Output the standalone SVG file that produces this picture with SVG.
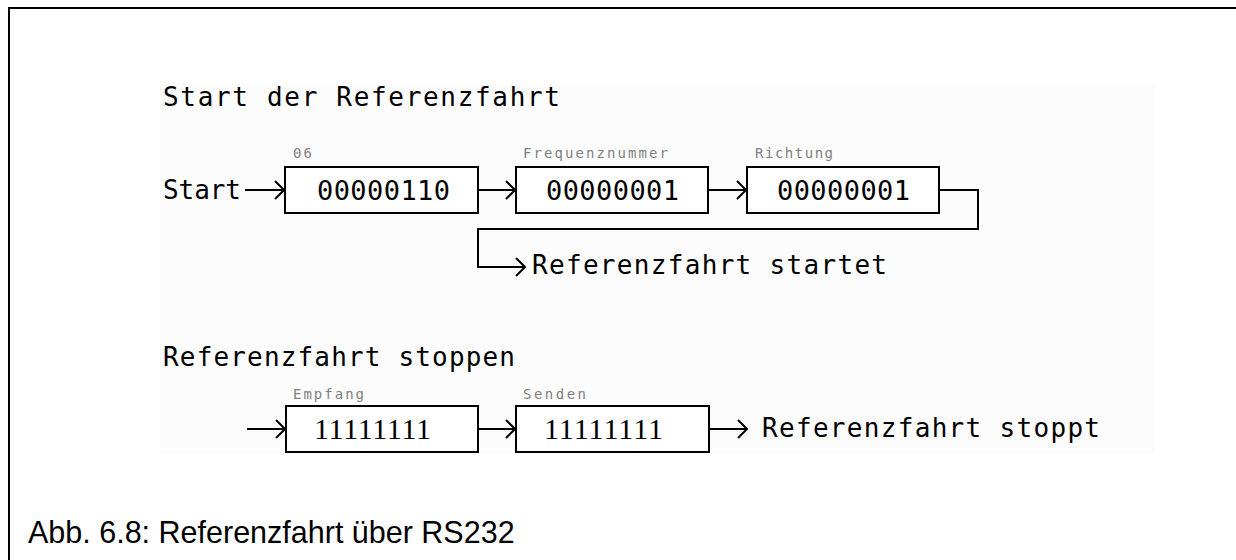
<svg xmlns="http://www.w3.org/2000/svg" width="1236" height="560" viewBox="0 0 1236 560">
<style>
.cad{font-family:"DejaVu Sans Mono","Liberation Mono",monospace;font-size:26px;fill:#000}
.val{font-family:"DejaVu Sans Mono","Liberation Mono",monospace;font-size:27px;fill:#000}
.one{font-family:"Liberation Serif","Times New Roman",serif;font-size:30px;fill:#000}
.lbl{font-family:"DejaVu Sans Mono","Liberation Mono",monospace;font-size:14px;fill:#808080}
.box{fill:#fff;stroke:#000;stroke-width:2}
.con{fill:none;stroke:#000;stroke-width:2}
.cap{font-family:"Liberation Sans",Arial,sans-serif;font-size:30.5px;fill:#000}
</style>
<defs>
<marker id="arr" viewBox="0 0 11 20" refX="10" refY="10" markerWidth="11" markerHeight="20" markerUnits="userSpaceOnUse" orient="auto">
<path d="M1,1 L10,10 L1,19" fill="none" stroke="#000" stroke-width="2"/>
</marker>
</defs>
<rect x="0" y="0" width="1236" height="560" fill="#fff"/>
<rect x="160" y="84" width="995" height="370" fill="#fcfcfc"/>
<path d="M9,560 L9,8 L1236,8" fill="none" stroke="#000" stroke-width="2"/>

<text class="cad" x="163" y="106" textLength="397" lengthAdjust="spacing">Start der Referenzfahrt</text>
<text class="cad" x="163" y="199" textLength="78" lengthAdjust="spacing">Start</text>

<g id="connectors">
<path class="con" d="M245,190 L284,190" marker-end="url(#arr)"/>
<path class="con" d="M478,190 L515,190" marker-end="url(#arr)"/>
<path class="con" d="M708,190 L746,190" marker-end="url(#arr)"/>
<path class="con" d="M939,190 L978,190 L978,229 L478,229 L478,267 L525,267" marker-end="url(#arr)"/>
<path class="con" d="M247,429 L285,429" marker-end="url(#arr)"/>
<path class="con" d="M478,429 L515,429" marker-end="url(#arr)"/>
<path class="con" d="M709,429 L747,429" marker-end="url(#arr)"/>
</g>

<g id="n1">
<text class="lbl" x="293" y="158" textLength="19" lengthAdjust="spacing">06</text>
<rect class="box" x="285" y="167" width="193" height="46"/>
<text class="val" x="317" y="200" textLength="133" lengthAdjust="spacing">00000110</text>
</g>
<g id="n2">
<text class="lbl" x="523" y="158" textLength="145" lengthAdjust="spacing">Frequenznummer</text>
<rect class="box" x="516" y="167" width="192" height="46"/>
<text class="val" x="546" y="200" textLength="133" lengthAdjust="spacing">00000001</text>
</g>
<g id="n3">
<text class="lbl" x="755" y="158" textLength="78" lengthAdjust="spacing">Richtung</text>
<rect class="box" x="747" y="167" width="192" height="46"/>
<text class="val" x="777" y="200" textLength="133" lengthAdjust="spacing">00000001</text>
</g>
<text class="cad" x="532" y="274" textLength="355" lengthAdjust="spacing">Referenzfahrt startet</text>

<text class="cad" x="163" y="366" textLength="352" lengthAdjust="spacing">Referenzfahrt stoppen</text>

<g id="n4">
<text class="lbl" x="293" y="399" textLength="71" lengthAdjust="spacing">Empfang</text>
<rect class="box" x="286" y="406" width="192" height="46"/>
<text class="one" x="314" y="439" textLength="117" lengthAdjust="spacing">11111111</text>
</g>
<g id="n5">
<text class="lbl" x="523" y="399" textLength="63" lengthAdjust="spacing">Senden</text>
<rect class="box" x="516" y="406" width="193" height="46"/>
<text class="one" x="544" y="439" textLength="119" lengthAdjust="spacing">11111111</text>
</g>
<text class="cad" x="762" y="437" textLength="338" lengthAdjust="spacing">Referenzfahrt stoppt</text>

<text class="cap" x="28" y="543">Abb. 6.8: Referenzfahrt über RS232</text>
</svg>
